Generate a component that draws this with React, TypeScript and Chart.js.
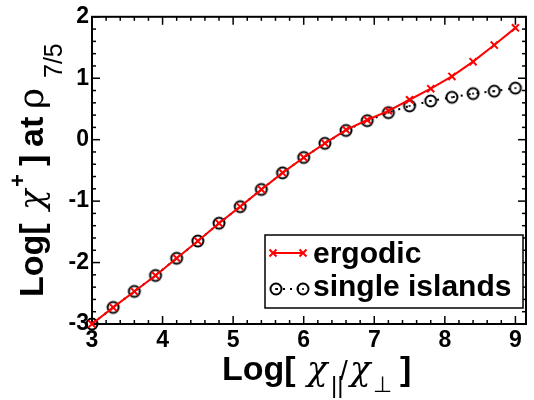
import React, { useEffect, useRef } from "react";
import { Chart, registerables } from "chart.js";

Chart.register(...registerables);

// ---- data ----
const logRatio = [3.0, 3.3, 3.6, 3.9, 4.2, 4.5, 4.8, 5.1, 5.4, 5.7, 6.0, 6.3, 6.6, 6.9, 7.2, 7.5, 7.8, 8.1, 8.4, 8.7, 9.0];
const ergodic = [-3.0, -2.73, -2.47, -2.21, -1.93, -1.65, -1.36, -1.09, -0.81, -0.54, -0.29, -0.06, 0.16, 0.32, 0.47, 0.65, 0.83, 1.03, 1.27, 1.54, 1.82];
const singleIslands = [-3.0, -2.73, -2.47, -2.21, -1.93, -1.65, -1.36, -1.09, -0.81, -0.54, -0.29, -0.06, 0.15, 0.31, 0.44, 0.55, 0.63, 0.69, 0.75, 0.79, 0.84];
const seriesLabels = ["ergodic", "single islands"];
const xTickLabels = ["3", "4", "5", "6", "7", "8", "9"];
const yTickLabels = ["-3", "-2", "-1", "0", "1", "2"];

const SANS = '"Liberation Sans", Arial, Helvetica, sans-serif';
const GREEK = '"DejaVu Serif", "Liberation Serif", serif';
const RED = "#ff0000";

function makeCircleMarker(): HTMLCanvasElement {
  const c = document.createElement("canvas");
  c.width = 16;
  c.height = 16;
  const g = c.getContext("2d")!;
  g.strokeStyle = "#000";
  g.lineWidth = 2;
  g.beginPath();
  g.arc(8, 8, 5.5, 0, Math.PI * 2);
  g.stroke();
  g.fillStyle = "#000";
  g.beginPath();
  g.arc(8, 8, 1.1, 0, Math.PI * 2);
  g.fill();
  return c;
}

type Seg = { t: string; f: string; x: number; dy?: number };

function drawSegs(ctx: CanvasRenderingContext2D, segs: Seg[]) {
  ctx.fillStyle = "#000";
  ctx.textAlign = "left";
  ctx.textBaseline = "alphabetic";
  for (const s of segs) {
    ctx.font = s.f;
    ctx.fillText(s.t, s.x, s.dy || 0);
  }
}

const BOLD34 = `bold 34px ${SANS}`;
const GREEK_F = `italic 34px ${GREEK}`;

const xTitleSegs: Seg[] = [
  { t: "Log[", f: BOLD34, x: 0 },
  { t: "χ", f: GREEK_F, x: 85 },
  { t: "||", f: `24px ${SANS}`, x: 109, dy: 13 },
  { t: "/", f: `28px ${SANS}`, x: 118 },
  { t: "χ", f: GREEK_F, x: 128 },
  { t: "⊥", f: `22px "DejaVu Sans", sans-serif`, x: 151, dy: 12 },
  { t: "]", f: BOLD34, x: 178 },
];

const yTitleSegs: Seg[] = [
  { t: "Log[", f: BOLD34, x: 0 },
  { t: "χ", f: GREEK_F, x: 87 },
  { t: "+", f: `bold 22px ${SANS}`, x: 110, dy: -18 },
  { t: "]", f: BOLD34, x: 131 },
  { t: "at", f: BOLD34, x: 150 },
  { t: "ρ", f: `36px ${GREEK}`, x: 188 },
  { t: "7/5", f: `25px ${SANS}`, x: 219, dy: 19 },
];

const framePlugin = {
  id: "frameTicks",
  beforeDatasetsDraw(chart: any) {
    const { ctx, chartArea: a, scales } = chart;
    const x = scales.x;
    const y = scales.y;
    ctx.save();
    ctx.strokeStyle = "#000";
    ctx.lineWidth = 1.5;
    const seg = (x1: number, y1: number, x2: number, y2: number) => {
      ctx.beginPath();
      ctx.moveTo(x1, y1);
      ctx.lineTo(x2, y2);
      ctx.stroke();
    };
    for (let k = Math.ceil(x.min * 5 - 1e-6); k <= Math.floor(x.max * 5 + 1e-6); k++) {
      const len = k % 5 === 0 ? 8 : 4;
      const px = x.getPixelForValue(k / 5);
      seg(px, a.bottom, px, a.bottom - len);
      seg(px, a.top, px, a.top + len);
    }
    for (let k = Math.ceil(y.min * 5 - 1e-6); k <= Math.floor(y.max * 5 + 1e-6); k++) {
      const len = k % 5 === 0 ? 8 : 4;
      const py = y.getPixelForValue(k / 5);
      seg(a.left, py, a.left + len, py);
      seg(a.right, py, a.right - len, py);
    }
    ctx.lineWidth = 2;
    ctx.strokeRect(a.left, a.top, a.right - a.left, a.bottom - a.top);
    ctx.restore();
  },
};

const overlayPlugin = {
  id: "overlay",
  afterDraw(chart: any) {
    const { ctx } = chart;
    const marker: HTMLCanvasElement = chart.$circleMarker;
    ctx.save();
    // axis titles
    ctx.save();
    ctx.translate(222, 380);
    drawSegs(ctx, xTitleSegs);
    ctx.restore();
    ctx.save();
    ctx.translate(43, 297);
    ctx.rotate(-Math.PI / 2);
    drawSegs(ctx, yTitleSegs);
    ctx.restore();

    // legend
    const bx = 265, by = 235, bw = 258, bh = 73;
    ctx.fillStyle = "#fff";
    ctx.fillRect(bx, by, bw, bh);
    ctx.strokeStyle = "#000";
    ctx.lineWidth = 1.5;
    ctx.strokeRect(bx, by, bw, bh);

    const x1 = 273, x2 = 303;
    const r1 = 253, r2 = 289;
    ctx.strokeStyle = RED;
    ctx.lineWidth = 2;
    ctx.beginPath();
    ctx.moveTo(x1, r1);
    ctx.lineTo(x2, r1);
    ctx.stroke();
    const cross = (cx: number, cy: number) => {
      const d = 3.5;
      ctx.beginPath();
      ctx.moveTo(cx - d, cy - d);
      ctx.lineTo(cx + d, cy + d);
      ctx.moveTo(cx - d, cy + d);
      ctx.lineTo(cx + d, cy - d);
      ctx.stroke();
    };
    cross(x1, r1);
    cross(x2, r1);

    ctx.strokeStyle = "#000";
    ctx.setLineDash([2, 5]);
    ctx.beginPath();
    ctx.moveTo(x1 + 3, r2);
    ctx.lineTo(x2, r2);
    ctx.stroke();
    ctx.setLineDash([]);
    if (marker) {
      ctx.drawImage(marker, x1 + 3 - marker.width / 2, r2 - marker.height / 2);
      ctx.drawImage(marker, x2 - marker.width / 2, r2 - marker.height / 2);
    }

    ctx.fillStyle = "#000";
    ctx.font = `bold 30px ${SANS}`;
    ctx.textAlign = "left";
    ctx.textBaseline = "alphabetic";
    ctx.fillText(seriesLabels[0], 313, 263);
    ctx.fillText(seriesLabels[1], 313, 296);
    ctx.restore();
  },
};

export default function App() {
  const ref = useRef<HTMLCanvasElement | null>(null);
  useEffect(() => {
    if (!ref.current) return;
    const marker = makeCircleMarker();
    const chart = new Chart(ref.current, {
      type: "scatter",
      data: {
        datasets: [
          {
            label: seriesLabels[0],
            data: logRatio.map((v, i) => ({ x: v, y: ergodic[i] })),
            showLine: true,
            borderColor: RED,
            borderWidth: 2,
            pointStyle: "crossRot",
            pointRadius: 5,
            pointBorderColor: RED,
            pointBorderWidth: 2,
            pointBackgroundColor: RED,
            clip: false as any,
          },
          {
            label: seriesLabels[1],
            data: logRatio.map((v, i) => ({ x: v, y: singleIslands[i] })),
            showLine: true,
            borderColor: "#000",
            borderWidth: 2,
            borderDash: [2, 6],
            pointStyle: marker as any,
            pointRadius: 6,
            clip: false as any,
          },
        ],
      },
      options: {
        animation: false,
        responsive: true,
        maintainAspectRatio: false,
        layout: { padding: { left: 0, right: 1, top: 13, bottom: 0 } },
        plugins: {
          legend: { display: false },
          tooltip: { enabled: false },
          title: { display: false },
        },
        scales: {
          x: {
            type: "linear",
            min: 3,
            max: 9.15,
            grid: { display: false, drawTicks: false },
            border: { display: false },
            ticks: {
              stepSize: 1,
              includeBounds: false,
              padding: 3,
              color: "#000",
              font: { family: SANS, size: 23, weight: "bold" },
              callback: (v: any) => {
                const i = Math.round(Number(v)) - 3;
                return Number.isInteger(Number(v)) && xTickLabels[i] !== undefined ? xTickLabels[i] : "";
              },
            },
            afterFit: (s: any) => {
              s.height = 76;
            },
          },
          y: {
            type: "linear",
            min: -3,
            max: 2,
            grid: { display: false, drawTicks: false },
            border: { display: false },
            ticks: {
              stepSize: 1,
              padding: 3,
              color: "#000",
              font: { family: SANS, size: 23, weight: "bold" },
              callback: (v: any) => {
                const i = Math.round(Number(v)) + 3;
                return Number.isInteger(Number(v)) && yTickLabels[i] !== undefined ? yTickLabels[i] : "";
              },
            },
            afterFit: (s: any) => {
              s.width = 92;
            },
          },
        },
      },
      plugins: [framePlugin, overlayPlugin],
    });
    (chart as any).$circleMarker = marker;
    chart.draw();
    return () => chart.destroy();
  }, []);
  return (
    <div style={{ position: "fixed", left: 0, top: 0, width: 534, height: 400, background: "#fff" }}>
      <canvas ref={ref} />
    </div>
  );
}
